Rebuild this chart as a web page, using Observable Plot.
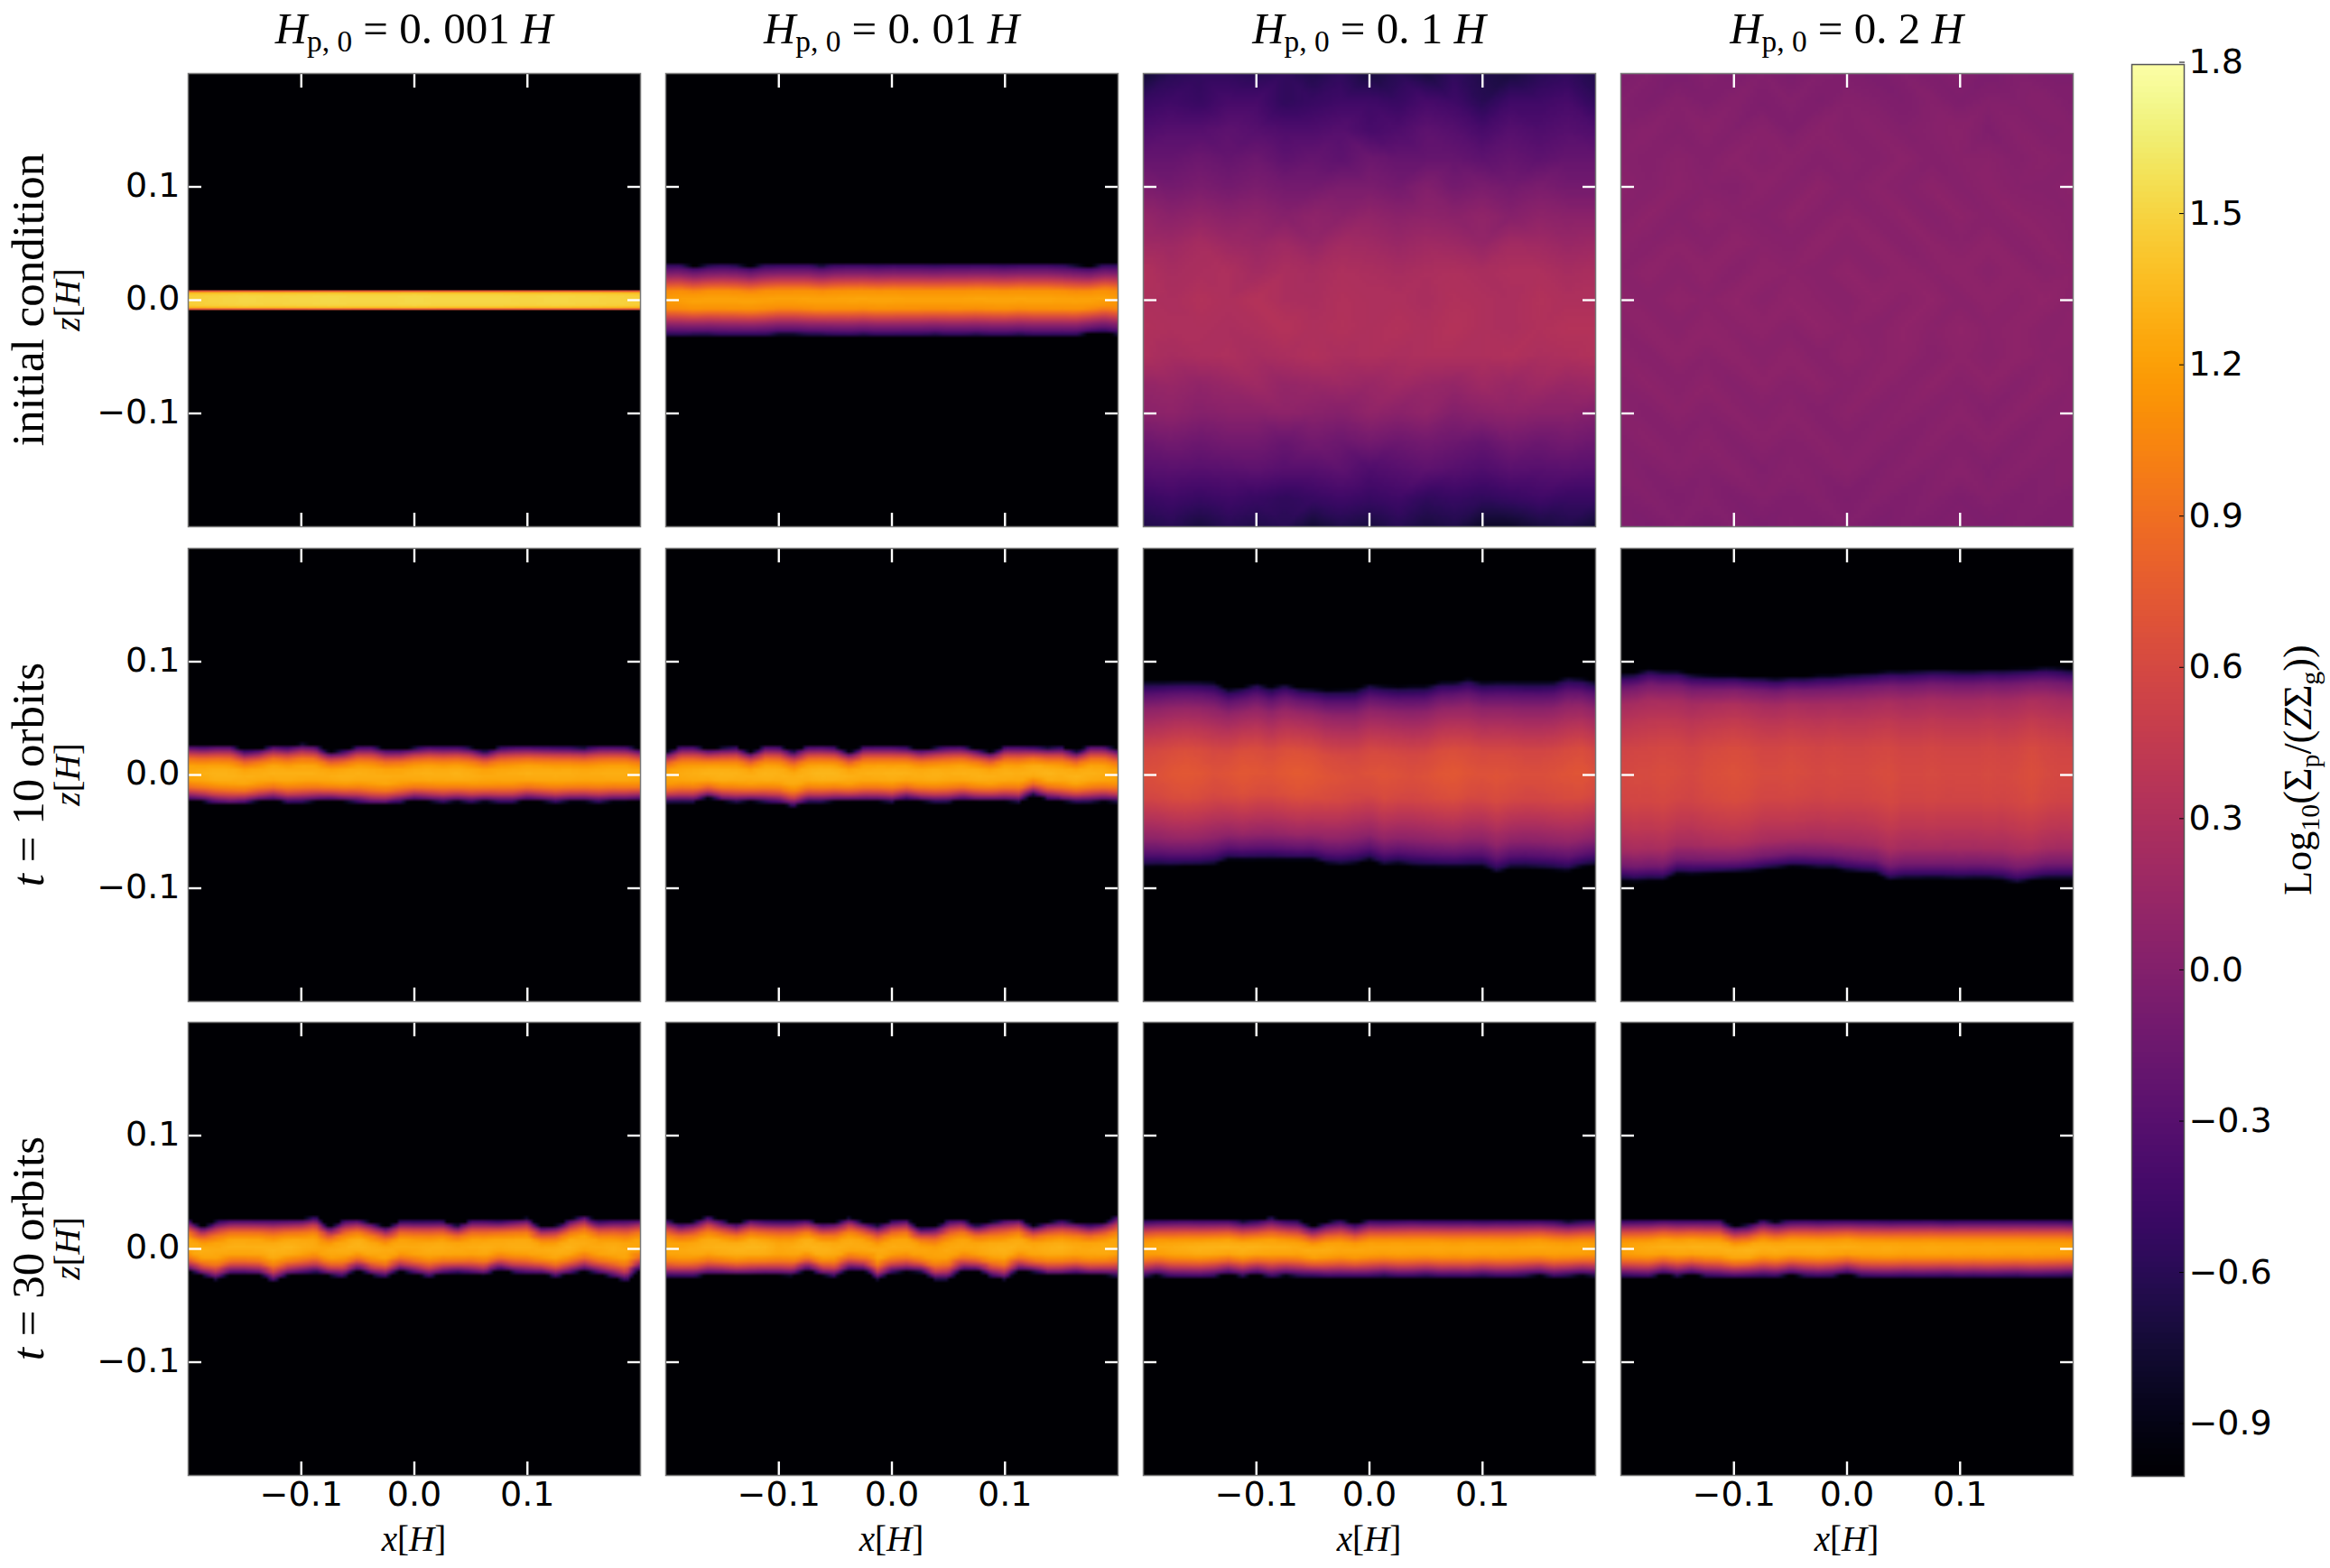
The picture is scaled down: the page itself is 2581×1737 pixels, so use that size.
<!DOCTYPE html>
<html><head><meta charset="utf-8">
<style>
html,body{margin:0;padding:0;background:#fff}
#root{position:relative;width:2581px;height:1737px;overflow:hidden;background:#fff}
#root>div.p{position:absolute}
.t{position:absolute;white-space:nowrap;color:#000;font-family:"Liberation Serif",serif;line-height:1;transform:translate(-50%,-50%)}
.t.r{transform:translate(-50%,-50%) rotate(-90deg)}
.t sub{font-size:.68em;vertical-align:-.3em;line-height:0}
</style>
<script src="https://cdn.jsdelivr.net/npm/d3@7"></script>
<script src="https://cdn.jsdelivr.net/npm/@observablehq/plot@0.6"></script>
</head><body><div id="root"></div>
<script>
const columnTitles = ["0. 001","0. 01","0. 1","0. 2"];
const rowTitles = ["initial condition","<i>t</i> = 10 orbits","<i>t</i> = 30 orbits"];
const axisTicks = [-0.1,0,0.1];
const barTicks = [-0.9,-0.6,-0.3,0,0.3,0.6,0.9,1.2,1.5,1.8];
const bandOffsets = [0,.25,.5,.7,.85,.95];

// Band panels: upper edge, lower edge, peak value along x, and drop from the peak across the band.
const r1c1Top=[.0090,.0090,.0090,.0090,.0090,.0090,.0090,.0090,.0090,.0090,.0090,.0090,.0090,.0090,.0090,.0090,.0090];
const r1c1Bot=[-.0090,-.0090,-.0090,-.0090,-.0090,-.0090,-.0090,-.0090,-.0090,-.0090,-.0090,-.0090,-.0090,-.0090,-.0090,-.0090,-.0090];
const r1c1Core=[1.48,1.5,1.52,1.51,1.52,1.53,1.52,1.52,1.53,1.52,1.52,1.52,1.51,1.52,1.51,1.5,1.48];
const r1c1Drop=[0,0,.02,.12,.5,1.3];

const r1c2Top=[.0325,.0325,.030,.0315,.0320,.0315,.0300,.0320,.0325,.0325,.0325,.0310,.0325,.0325,.0325,.0320,.0325,.0325,.0325,.0320,.0325,.0325,.0325,.0325,.0320,.0325,.0325,.0325,.0320,.0310,.0300,.0320,.0325];
const r1c2Bot=[-.0320,-.0320,-.0315,-.0315,-.0320,-.0320,-.0320,-.0320,-.0310,-.0310,-.0315,-.0315,-.0320,-.0320,-.0315,-.0320,-.0320,-.0320,-.0320,-.0315,-.0320,-.0320,-.0315,-.0320,-.0320,-.0315,-.0320,-.0320,-.0320,-.0320,-.0300,-.0290,-.0315];
const r1c2Core=[1.2,1.22,1.24,1.24,1.24,1.24,1.24,1.23,1.23,1.23,1.24,1.24,1.24,1.25,1.25,1.25,1.25,1.24,1.24,1.24,1.24,1.24,1.25,1.25,1.25,1.25,1.25,1.25,1.24,1.24,1.24,1.23,1.2];
const r1c2Drop=[0,.12,.7,1.2,1.5,1.8];

const r2c1Top=[.0266,.0258,.0266,.0266,.0218,.0231,.0263,.0253,.0277,.0266,.0205,.0218,.0258,.0261,.0231,.0231,.0245,.0258,.0255,.0255,.0245,.0213,.0250,.0258,.0258,.0255,.0253,.0250,.0245,.0261,.0261,.0258,.0231];
const r2c1Bot=[-.023,-.024,-.026,-.027,-.026,-.024,-.023,-.025,-.025,-.024,-.023,-.024,-.025,-.027,-.027,-.025,-.023,-.024,-.025,-.024,-.025,-.024,-.025,-.025,-.023,-.024,-.025,-.024,-.024,-.025,-.024,-.024,-.023];
const r2c1Core=[1.28,1.3,1.33,1.32,1.3,1.3,1.31,1.31,1.3,1.3,1.29,1.31,1.31,1.3,1.29,1.28,1.3,1.31,1.3,1.32,1.3,1.27,1.28,1.29,1.3,1.3,1.3,1.3,1.28,1.29,1.3,1.3,1.28];
const r2c1Drop=[0,.05,.35,.85,1.45,1.8];

const r2c2Top=[.0205,.0258,.0258,.0231,.0244,.025,.0205,.0258,.0258,.0212,.0258,.0258,.025,.0205,.0258,.0258,.0258,.025,.0231,.0244,.0258,.0258,.0231,.0205,.0258,.0258,.025,.0244,.025,.0212,.0266,.0266,.0231];
const r2c2Bot=[-.0247,-.0247,-.0247,-.0207,-.0239,-.0247,-.0239,-.0247,-.0255,-.0287,-.0247,-.0247,-.0239,-.0239,-.0239,-.0239,-.0247,-.022,-.0239,-.0247,-.0247,-.0228,-.0239,-.0239,-.0239,-.0247,-.0181,-.022,-.0239,-.0247,-.0247,-.0239,-.0247];
const r2c2Core=[1.25,1.28,1.3,1.32,1.33,1.32,1.3,1.33,1.32,1.3,1.32,1.35,1.34,1.3,1.3,1.31,1.32,1.31,1.3,1.32,1.3,1.31,1.32,1.3,1.31,1.3,1.31,1.33,1.31,1.32,1.31,1.29,1.25];
const r2c2Drop=[0,.05,.35,.85,1.45,1.8];

const r2c3Top=[.0832,.0832,.0832,.0832,.0832,.0827,.0765,.0779,.0819,.0779,.0811,.0773,.0765,.0752,.0757,.0765,.0811,.0792,.0784,.0792,.0792,.0827,.0827,.0859,.0827,.0832,.0832,.0832,.0832,.0832,.0872,.0859,.0832];
const r2c3Bot=[-.0821,-.0816,-.0816,-.0811,-.0811,-.0805,-.0755,-.0755,-.0755,-.0755,-.0755,-.0755,-.0755,-.0795,-.0808,-.0795,-.0763,-.0808,-.0795,-.0816,-.0821,-.0821,-.0821,-.0821,-.0821,-.0875,-.0835,-.0835,-.0843,-.0848,-.0861,-.0821,-.0808];
const r2c3Core=[.66,.68,.72,.74,.72,.68,.7,.74,.72,.7,.74,.76,.74,.7,.68,.66,.68,.7,.68,.66,.68,.72,.74,.7,.68,.7,.68,.66,.66,.68,.7,.72,.66];
const r2c3Drop=[0,.08,.35,.6,.95,1.3];

const r2c4Top=[.0899,.0907,.0944,.0925,.0925,.0899,.0885,.088,.088,.0872,.0872,.0859,.0872,.0872,.0885,.0885,.0899,.0907,.0912,.0925,.0925,.0933,.0939,.0939,.0933,.0933,.0939,.0939,.0944,.0944,.096,.0952,.0939];
const r2c4Bot=[-.0941,-.0949,-.0941,-.0941,-.088,-.0888,-.088,-.0875,-.0869,-.0861,-.0848,-.0835,-.0816,-.0821,-.0835,-.0835,-.0861,-.0875,-.088,-.0941,-.0928,-.0928,-.0923,-.0928,-.0933,-.0928,-.0928,-.0941,-.0968,-.0941,-.0928,-.0928,-.0928];
const r2c4Core=[.6,.62,.62,.64,.62,.6,.64,.66,.68,.66,.62,.62,.64,.62,.6,.62,.6,.6,.62,.64,.6,.6,.62,.6,.6,.6,.62,.6,.62,.66,.62,.6,.6];
const r2c4Drop=[0,.04,.2,.37,.7,1.15];

const r3c1Top=[.0263,.0197,.025,.0263,.0263,.0263,.0263,.0263,.0268,.029,.0197,.0258,.0263,.0236,.0197,.025,.025,.025,.025,.021,.0258,.0258,.025,.0263,.0276,.0197,.021,.0263,.0303,.025,.0258,.0263,.0268];
const r3c1Bot=[-.0202,-.0242,-.0282,-.0228,-.0228,-.0236,-.0295,-.0242,-.0228,-.0215,-.0242,-.0255,-.0194,-.0242,-.0255,-.0202,-.0228,-.0255,-.0228,-.0215,-.0228,-.0242,-.0189,-.0215,-.0228,-.0228,-.0255,-.0228,-.0202,-.0228,-.0255,-.0295,-.0189];
const r3c1Core=[1.28,1.3,1.28,1.3,1.3,1.3,1.32,1.33,1.3,1.28,1.28,1.3,1.33,1.3,1.28,1.27,1.27,1.3,1.3,1.28,1.28,1.3,1.28,1.3,1.3,1.28,1.3,1.32,1.28,1.27,1.3,1.28,1.25];
const r3c1Drop=[0,.05,.35,.85,1.45,1.8];

const r3c2Top=[.0266,.0226,.0244,.0292,.0252,.0226,.0266,.0252,.0252,.0252,.026,.0226,.0239,.0279,.0239,.0212,.0252,.0266,.0186,.0199,.026,.0266,.0212,.0244,.0266,.0271,.0207,.0239,.0252,.0239,.0218,.0239,.0305];
const r3c2Bot=[-.0252,-.0252,-.0252,-.0234,-.0234,-.0239,-.0239,-.0234,-.0239,-.0244,-.0191,-.0239,-.0252,-.0191,-.0199,-.0279,-.0218,-.0207,-.0212,-.0279,-.0279,-.0199,-.0199,-.0252,-.0279,-.0199,-.0212,-.0239,-.0239,-.0226,-.0239,-.0239,-.0252];
const r3c2Core=[1.27,1.27,1.29,1.31,1.32,1.33,1.34,1.33,1.27,1.29,1.33,1.33,1.3,1.29,1.28,1.28,1.28,1.28,1.25,1.24,1.27,1.27,1.27,1.31,1.32,1.3,1.28,1.31,1.32,1.28,1.28,1.3,1.27];
const r3c2Drop=[0,.05,.35,.85,1.45,1.8];

const r3c3Top=[.0258,.0262,.0266,.0266,.0262,.0262,.0262,.0245,.0252,.0283,.0258,.0252,.0200,.0240,.0258,.0226,.0262,.0258,.0262,.0266,.0262,.0262,.0262,.0262,.0258,.0262,.0262,.0262,.0262,.0258,.0245,.0252,.0262];
const r3c3Bot=[-.026,-.024,-.026,-.026,-.026,-.025,-.023,-.025,-.023,-.026,-.024,-.025,-.025,-.026,-.026,-.026,-.026,-.025,-.026,-.026,-.025,-.026,-.026,-.026,-.025,-.026,-.026,-.025,-.024,-.026,-.025,-.024,-.025];
const r3c3Core=[1.25,1.27,1.29,1.31,1.33,1.33,1.32,1.33,1.32,1.3,1.3,1.28,1.29,1.29,1.27,1.26,1.27,1.26,1.27,1.26,1.26,1.27,1.25,1.27,1.26,1.26,1.25,1.26,1.27,1.26,1.25,1.26,1.24];
const r3c3Drop=[0,.08,.5,1.05,1.55,1.85];

const r3c4Top=[.0262,.0262,.0262,.0266,.0262,.0262,.0262,.0262,.0205,.0215,.0262,.0240,.0258,.0262,.0258,.0262,.0262,.0262,.0262,.0258,.0262,.0262,.0262,.0258,.0262,.0262,.0262,.0262,.0262,.0262,.0262,.0262,.0258];
const r3c4Bot=[-.0255,-.0258,-.0260,-.0230,-.0250,-.0232,-.0250,-.0255,-.0260,-.0255,-.0250,-.0255,-.0235,-.0250,-.0255,-.0250,-.0230,-.0255,-.0260,-.0260,-.0258,-.0260,-.0258,-.0255,-.0260,-.0258,-.0260,-.0258,-.0255,-.0260,-.0258,-.0255,-.0250];
const r3c4Core=[1.24,1.27,1.29,1.3,1.31,1.31,1.32,1.32,1.32,1.33,1.31,1.31,1.3,1.3,1.31,1.29,1.29,1.28,1.28,1.29,1.27,1.27,1.28,1.27,1.27,1.26,1.27,1.26,1.26,1.26,1.25,1.25,1.24];
const r3c4Drop=[0,.08,.5,1.05,1.55,1.85];

// Extended panels: rows of values read top to bottom, left to right.
const r1c3Grid=[
[-.75,-.6,-.55,-.55,-.6,-.55,-.65,-.55,-.7,-.6,-.7,-.55,-.65,-.7,-.6,-.55,-.65],
[-.5,-.45,-.5,-.4,-.4,-.55,-.5,-.45,-.45,-.5,-.4,-.45,-.6,-.45,-.45,-.4,-.55],
[-.35,-.3,-.3,-.25,-.3,-.35,-.35,-.3,-.4,-.35,-.25,-.3,-.4,-.3,-.35,-.3,-.35],
[-.2,-.2,-.15,-.2,-.15,-.25,-.2,-.25,-.15,-.2,-.2,-.2,-.25,-.2,-.25,-.2,-.2],
[-.05,-.1,-.05,-.1,-.05,-.1,-.1,-.05,-.05,-.1,0,-.1,-.05,-.1,-.05,-.1,-.1],
[.12,.05,.1,.05,.08,.02,.08,.05,.1,.05,.08,.05,.1,.02,.08,.05,.05],
[.2,.18,.25,.18,.15,.2,.12,.22,.2,.15,.2,.18,.12,.22,.2,.15,.18],
[.32,.25,.28,.3,.22,.28,.25,.3,.28,.25,.28,.3,.27,.3,.3,.25,.28],
[.3,.28,.33,.3,.35,.28,.27,.32,.3,.3,.27,.32,.3,.28,.33,.3,.3],
[.32,.3,.3,.28,.3,.35,.3,.33,.3,.33,.3,.35,.3,.28,.32,.35,.35],
[.3,.25,.28,.3,.25,.28,.32,.28,.3,.28,.3,.3,.3,.32,.28,.3,.33],
[.12,.15,.1,.15,.2,.12,.15,.18,.15,.2,.15,.12,.2,.15,.2,.15,.18],
[.05,.08,.02,.05,.05,.08,.05,.02,.1,.05,.1,0,.05,.08,.05,.05,0],
[-.15,-.1,-.15,-.1,-.1,-.18,-.1,-.15,-.1,-.15,-.1,-.15,-.2,-.1,-.15,-.1,-.15],
[-.3,-.28,-.3,-.28,-.25,-.3,-.3,-.25,-.35,-.3,-.25,-.3,-.35,-.28,-.3,-.28,-.3],
[-.5,-.45,-.5,-.45,-.5,-.55,-.5,-.45,-.5,-.45,-.55,-.5,-.55,-.5,-.45,-.5,-.5],
[-.65,-.6,-.7,-.6,-.65,-.6,-.75,-.65,-.7,-.6,-.7,-.65,-.8,-.8,-.7,-.65,-.75]];
const r1c4Grid=[
[-.03,0,-.05,.01,-.03,0,-.05,0,-.02,-.05,0,-.03,.01,-.05,-.01,-.03,-.03],
[0,-.03,.02,-.02,.02,-.03,.01,-.03,.02,0,-.03,.02,-.03,.01,0,.02,-.02],
[.01,.04,0,.05,0,.04,-.02,.05,.01,.04,0,.03,.05,-.02,.04,0,.01],
[.03,.01,.05,.01,.06,.02,.05,.01,.04,.01,.06,.01,.04,.05,.01,.05,.02],
[.05,.02,.06,.03,.01,.06,.02,.07,.02,.06,.02,.07,.02,.06,.03,.02,.05],
[.03,.07,.02,.07,.04,.02,.07,.03,.07,.03,.07,.02,.07,.03,.07,.05,.03],
[.06,.03,.07,.03,.08,.05,.03,.08,.04,.08,.03,.07,.04,.08,.03,.07,.04],
[.04,.08,.04,.08,.03,.08,.06,.04,.09,.04,.08,.05,.08,.04,.08,.04,.06],
[.07,.04,.09,.05,.09,.04,.09,.06,.04,.09,.05,.09,.04,.08,.05,.09,.05],
[.04,.08,.04,.09,.05,.08,.04,.09,.06,.04,.09,.05,.09,.05,.08,.04,.06],
[.06,.03,.08,.04,.08,.04,.08,.03,.08,.05,.08,.03,.07,.04,.08,.05,.04],
[.03,.07,.03,.07,.02,.07,.03,.07,.03,.07,.03,.07,.03,.07,.02,.07,.03],
[.04,.01,.06,.02,.06,.02,.06,.01,.06,.02,.05,.02,.06,.01,.06,.02,.04],
[.01,.05,.01,.05,0,.05,.01,.05,.01,.04,0,.05,.01,.05,0,.04,.01],
[.02,-.01,.03,0,.04,-.01,.03,0,.04,-.01,.03,0,.04,-.01,.03,0,.02],
[-.02,.01,-.02,.01,-.03,.01,-.02,.01,-.03,.01,-.02,.01,-.03,.01,-.02,0,-.02],
[-.01,-.04,0,-.03,0,-.04,-.01,-.03,0,-.04,-.01,-.03,0,-.04,-.01,-.03,-.01]];

const panelLeft=[208,737,1266,1795], panelTop=[81,607,1132], panelW=501, panelH=502;
const bandPanels={
 "0,0":[r1c1Top,r1c1Bot,r1c1Core,r1c1Drop],"0,1":[r1c2Top,r1c2Bot,r1c2Core,r1c2Drop],
 "1,0":[r2c1Top,r2c1Bot,r2c1Core,r2c1Drop],"1,1":[r2c2Top,r2c2Bot,r2c2Core,r2c2Drop],
 "1,2":[r2c3Top,r2c3Bot,r2c3Core,r2c3Drop],"1,3":[r2c4Top,r2c4Bot,r2c4Core,r2c4Drop],
 "2,0":[r3c1Top,r3c1Bot,r3c1Core,r3c1Drop],"2,1":[r3c2Top,r3c2Bot,r3c2Core,r3c2Drop],
 "2,2":[r3c3Top,r3c3Bot,r3c3Core,r3c3Drop],"2,3":[r3c4Top,r3c4Bot,r3c4Core,r3c4Drop]};
const gridPanels={"0,2":r1c3Grid,"0,3":r1c4Grid};
const L=-0.2,H=0.2;

function bandTable([top,bot,core,drop]){
  const out=[{x:L,z:L,v:-1},{x:H,z:L,v:-1},{x:L,z:H,v:-1},{x:H,z:H,v:-1}];
  top.forEach((t,i)=>{
    const x=L+(H-L)*i/(top.length-1), mid=(t+bot[i])/2, half=(t-bot[i])/2;
    out.push({x,z:t,v:-1},{x,z:bot[i],v:-1});
    bandOffsets.forEach((s,j)=>{
      out.push({x,z:mid+s*half,v:core[i]-drop[j]});
      if(s>0) out.push({x,z:mid-s*half,v:core[i]-drop[j]});
    });
  });
  return out;
}
function gridTable(g){
  const out=[];
  g.forEach((row,r)=>row.forEach((v,c)=>out.push({x:L+(H-L)*c/(row.length-1),z:H-(H-L)*r/(g.length-1),v})));
  return out;
}
const root=document.getElementById("root");
const fmt=d3.format(".1f");
const colorScale={type:"linear",scheme:"inferno",domain:[-1,1.8]};
const font="'DejaVu Sans',sans-serif";

function panel(r,c){
  const key=r+","+c, ml=c===0?140:2, mb=r===2?60:2;
  const data=bandPanels[key]?bandTable(bandPanels[key]):gridTable(gridPanels[key]);
  const marks=[
    Plot.raster(data,{x:"x",y:"z",fill:"v",x1:L,x2:H,y1:L,y2:H,interpolate:"barycentric",pixelSize:key==="0,0"?2:4}),
    Plot.axisX({anchor:"top",ticks:axisTicks,tickSize:-15,stroke:"#fff",strokeWidth:2.4,tickFormat:()=>"",label:null}),
    Plot.axisX({anchor:"bottom",ticks:axisTicks,tickSize:-15,stroke:"#fff",strokeWidth:2.4,tickFormat:()=>"",label:null}),
    Plot.axisY({anchor:"left",ticks:axisTicks,tickSize:-15,stroke:"#fff",strokeWidth:2.4,tickFormat:()=>"",label:null}),
    Plot.axisY({anchor:"right",ticks:axisTicks,tickSize:-15,stroke:"#fff",strokeWidth:2.4,tickFormat:()=>"",label:null}),
    Plot.frame({stroke:"#777",strokeWidth:1.5})
  ];
  if(r===2) marks.push(Plot.axisX({anchor:"bottom",ticks:axisTicks,tickSize:0,tickPadding:7,tickFormat:fmt,fontSize:38,label:null}));
  if(c===0) marks.push(Plot.axisY({anchor:"left",ticks:axisTicks,tickSize:0,tickPadding:9,dy:-1.5,tickFormat:fmt,fontSize:38,label:null}));
  const svg=Plot.plot({width:ml+panelW+2,height:2+panelH+mb,marginLeft:ml,marginRight:2,marginTop:2,marginBottom:mb,
    style:{fontFamily:font,background:"transparent",overflow:"visible",color:"#000"},
    x:{domain:[L,H],axis:null},y:{domain:[L,H],axis:null},color:colorScale,marks});
  const d=document.createElement("div");d.className="p";
  d.style.left=(panelLeft[c]-ml)+"px";d.style.top=(panelTop[r]-2)+"px";
  d.appendChild(svg);root.appendChild(d);
}
for(let r=0;r<3;r++)for(let c=0;c<4;c++)panel(r,c);

// colour bar
{
  const svg=Plot.plot({width:2+58+130,height:2+1564+2,marginLeft:2,marginRight:130,marginTop:2,marginBottom:2,
    style:{fontFamily:font,background:"transparent",overflow:"visible",color:"#000"},
    x:{domain:[0,1],axis:null},y:{domain:[-1,1.8],axis:null},color:colorScale,
    marks:[
      Plot.raster({x1:0,x2:1,y1:-1,y2:1.8,fill:(x,y)=>y,pixelSize:1}),
      Plot.axisY({anchor:"right",ticks:barTicks,tickSize:-6,tickPadding:11,dy:-2.5,stroke:"#000",strokeWidth:1,tickFormat:fmt,fontSize:38,label:null}),
      Plot.frame({stroke:"#555",strokeWidth:1.5})
    ]});
  const d=document.createElement("div");d.className="p";d.style.left="2359px";d.style.top="69px";
  d.appendChild(svg);root.appendChild(d);
}

function label(html,cx,cy,size,rot){
  const e=document.createElement("div");e.className="t"+(rot?" r":"");
  e.innerHTML=html;e.style.left=cx+"px";e.style.top=cy+"px";e.style.fontSize=size+"px";
  root.appendChild(e);
}
columnTitles.forEach((t,c)=>label(`<i>H</i><sub>p, 0</sub> = ${t} <i>H</i>`,panelLeft[c]+panelW/2,31,49));
rowTitles.forEach((t,r)=>{
  label(t,31,panelTop[r]+panelH/2,51,true);
  label("<i>z</i>[<i>H</i>]",74,panelTop[r]+panelH/2,39,true);
});
panelLeft.forEach(x=>label("<i>x</i>[<i>H</i>]",x+panelW/2,1704,39));
label("Log<sub>10</sub>(Σ<sub>p</sub>/(<i>Z</i>Σ<sub>g</sub>))",2546,853,44,true);
</script></body></html>
